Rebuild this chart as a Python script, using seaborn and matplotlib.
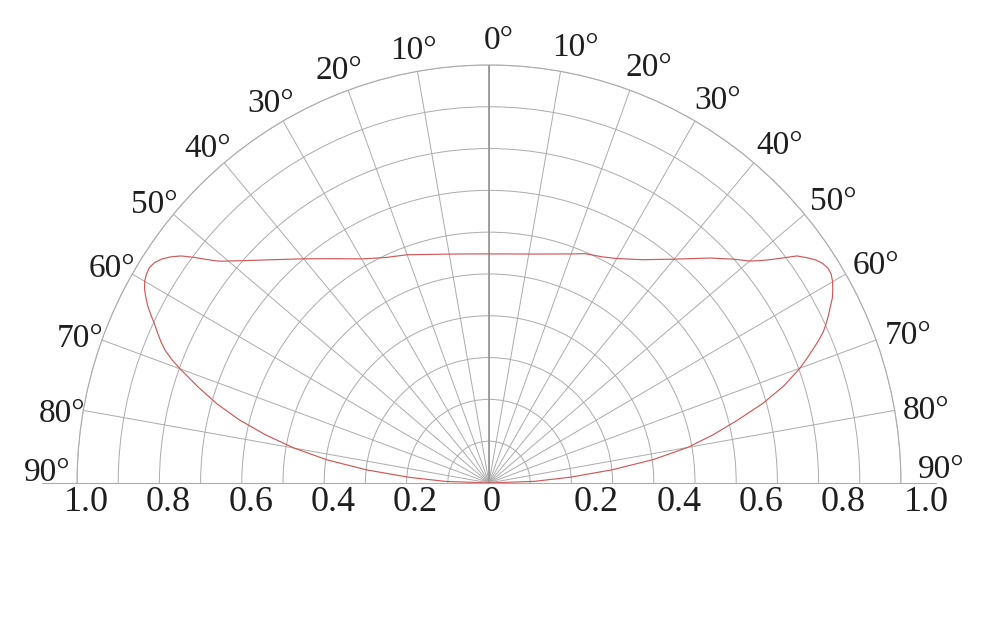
import numpy as np
import matplotlib
matplotlib.use("Agg")
import matplotlib.pyplot as plt
import matplotlib.transforms as mtransforms
import seaborn as sns

# light distribution curve: angle from vertical (deg, negative = left side) and relative intensity
angles = [-90, -88, -86, -84, -82, -80, -78, -76, -74, -72, -70, -69, -68, -67, -66, -65, -64, -63, -62, -61,
          -60, -59, -58, -57, -56, -55, -54, -53, -52, -51, -50, -48, -45, -40, -35, -30, -25, -20, -15, -10, -5,
          0, 5, 10, 15, 20, 23, 27, 30, 35, 40, 45, 48, 50, 51, 52, 53, 54, 55, 56, 57, 58, 59,
          60, 61, 62, 63, 64, 65, 66, 67, 68, 69, 70, 72, 74, 76, 78, 80, 82, 84, 86, 88, 90]
intensity = [0.0, 0.105, 0.195, 0.298, 0.397, 0.480, 0.555, 0.625, 0.687, 0.742, 0.798, 0.825, 0.848, 0.865, 0.880, 0.895, 0.912, 0.929, 0.943, 0.956,
             0.965, 0.970, 0.972, 0.968, 0.958, 0.943, 0.924, 0.897, 0.868, 0.843, 0.826, 0.795, 0.755, 0.700, 0.655, 0.619, 0.595, 0.581, 0.566, 0.556, 0.550,
             0.548, 0.550, 0.556, 0.567, 0.583, 0.596, 0.607, 0.620, 0.652, 0.699, 0.761, 0.800, 0.826, 0.845, 0.868, 0.895, 0.924, 0.940, 0.955, 0.965, 0.970, 0.969,
             0.963, 0.954, 0.944, 0.930, 0.917, 0.903, 0.888, 0.868, 0.846, 0.825, 0.803, 0.753, 0.692, 0.622, 0.557, 0.490, 0.403, 0.300, 0.198, 0.110, 0.0]

ring_values = [0.1, 0.2, 0.3, 0.4, 0.5, 0.6, 0.7, 0.8, 0.9, 1.0]
spoke_angles = list(range(-90, 91, 10))
scale_values = [1.0, 0.8, 0.6, 0.4, 0.2]
scale_labels = ["1.0", "0.8", "0.6", "0.4", "0.2"]
angle_labels = [f"{abs(a)}°" for a in spoke_angles]

sns.set_style("white")
plt.rcParams['font.family'] = ['Liberation Serif', 'DejaVu Serif']

grid_color = '#ababab'
curve_color = '#d05858'
text_color = '#1e1e1e'

fig = plt.figure(figsize=(10, 6.22), dpi=100)
ax = fig.add_axes([0.077, -0.1125, 0.824, 1.3441], projection='polar')
ax.set_theta_zero_location('N')
ax.set_theta_direction(-1)
ax.set_thetamin(-90)
ax.set_thetamax(90)
ax.set_rlim(0, 1)
ax.set_aspect('auto')

ax.set_xticks(np.radians(spoke_angles))
ax.set_xticklabels([])
ax.set_yticks(ring_values)
ax.set_yticklabels([])
ax.grid(True, color=grid_color, lw=0.7)
ax.tick_params(length=0)
for name in ['polar', 'start', 'end']:
    ax.spines[name].set_color(grid_color)
    ax.spines[name].set_linewidth(0.8)
ax.spines['inner'].set_visible(False)

# darker centre line and baseline running past the outer ring
ax.plot([0, 0], [0, 1], color='#999999', lw=1.3)
for side in [-np.pi / 2, np.pi / 2]:
    ax.plot([side, side], [1.0, 1.085], color=grid_color, lw=0.8, clip_on=False)

sns.lineplot(x=np.radians(angles), y=intensity, ax=ax, color=curve_color,
             lw=0.85, sort=False, estimator=None)
ax.set_xlabel('')
ax.set_ylabel('')

# scale labels under the baseline
left_tr = mtransforms.offset_copy(ax.transData, fig=fig, x=9, y=-20, units='dots')
right_tr = mtransforms.offset_copy(ax.transData, fig=fig, x=25, y=-20, units='dots')
zero_tr = mtransforms.offset_copy(ax.transData, fig=fig, x=3, y=-20, units='dots')
for v, lab in zip(scale_values, scale_labels):
    ax.text(-np.pi / 2, v, lab, transform=left_tr, ha='center', va='center', fontsize=26, color=text_color)
    ax.text(np.pi / 2, v, lab, transform=right_tr, ha='center', va='center', fontsize=26, color=text_color)
ax.text(0, 0, "0", transform=zero_tr, ha='center', va='center', fontsize=26, color=text_color)

# angle labels around the outer ring
ang_right_tr = mtransforms.offset_copy(ax.transData, fig=fig, x=10, y=3, units='dots')
for a, lab in zip(spoke_angles, angle_labels):
    pos = np.sign(a) * min(abs(a) * 1.012, 88.7)
    r = 1.073 if abs(a) == 90 else 1.05
    tr = ax.transData if a < 0 else ang_right_tr
    ax.text(np.radians(pos), r, lab, transform=tr, ha='center', va='center',
            fontsize=24, color=text_color)

fig.savefig('out.png', dpi=100, facecolor='white')
